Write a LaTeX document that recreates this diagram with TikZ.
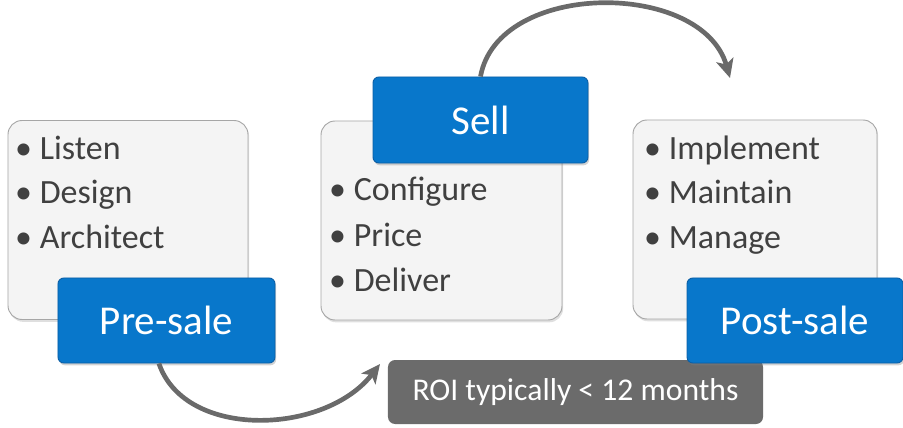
\documentclass[tikz,border=0pt]{standalone}
\usepackage{fontspec}
\setmainfont{Carlito}
\usepackage{tikz}
\usetikzlibrary{arrows.meta,shadows}

\definecolor{cardfill}{HTML}{F4F4F4}
\definecolor{carddraw}{HTML}{A6A6A6}
\definecolor{stagefill}{HTML}{0877CB}
\definecolor{stagedraw}{HTML}{0A5EA6}
\definecolor{notefill}{HTML}{6B6B6B}
\definecolor{itemtext}{HTML}{404040}
\definecolor{loopgray}{HTML}{6A6A6A}

\begin{document}
\begin{tikzpicture}[x=0.03cm, y=-0.03cm,
	card/.style={rectangle, rounded corners=12pt, fill=cardfill, draw=carddraw, line width=0.8pt,
		drop shadow={opacity=0.25, shadow xshift=1pt, shadow yshift=-2pt}},
	stage/.style={rectangle, rounded corners=5pt, fill=stagefill, draw=stagedraw, line width=0.8pt,
		text=white, font=\fontsize{35}{42}\selectfont,
		drop shadow={opacity=0.35, shadow xshift=1pt, shadow yshift=-2pt}},
	item/.style={anchor=base west, inner sep=0pt, text=itemtext, font=\fontsize{29}{35}\selectfont},
	loop/.style={line width=4pt, draw=loopgray, -{Stealth[length=16pt, width=15pt, inset=4pt]}}]
	\useasboundingbox (0,0) rectangle (903,428);

	% cards
	\node (precard) at (128,220) [card, minimum width=7.2cm, minimum height=5.97cm] {};
	\node (sellcard) at (441.5,220.5) [card, minimum width=7.23cm, minimum height=5.97cm] {};
	\node (postcard) at (755,219.5) [card, minimum width=7.32cm, minimum height=5.97cm] {};

	% bullet items
	\foreach \t [count=\i] in {Listen,Design,Architect}
		\node (pre\i) at (15,{160+44*(\i-1)}) [item] {\textbullet\ \t};
	\foreach \t [count=\i] in {Configure,Price,Deliver}
		\node (sell\i) at (329,{201+45*(\i-1)}) [item] {\textbullet\ \t};
	\foreach \t [count=\i] in {Implement,Maintain,Manage}
		\node (post\i) at (644,{160+44*(\i-1)}) [item] {\textbullet\ \t};

	% note
	\node (roi) at (575.5,392) [rectangle, rounded corners=6pt, fill=notefill, text=white,
		font=\fontsize{27}{32}\selectfont, minimum width=11.25cm, minimum height=1.92cm] {ROI typically < 12 months};

	% stages
	\node (presale) at (166.5,320.5) [stage, minimum width=6.51cm, minimum height=2.55cm] {Pre-sale};
	\node (sell) at (480.5,120) [stage, minimum width=6.45cm, minimum height=2.58cm] {Sell};
	\node (postsale) at (795,320.5) [stage, minimum width=6.48cm, minimum height=2.55cm] {Post-sale};

	% loops
	\coordinate (tipa) at (380,364);
	\coordinate (tipb) at (730,78);
	\draw[loop] (presale.-100) .. controls (185,440) and (325,435) .. (tipa);
	\draw[loop] (sell.north) .. controls (498,-20) and (702,-20) .. (tipb);
\end{tikzpicture}
\end{document}
